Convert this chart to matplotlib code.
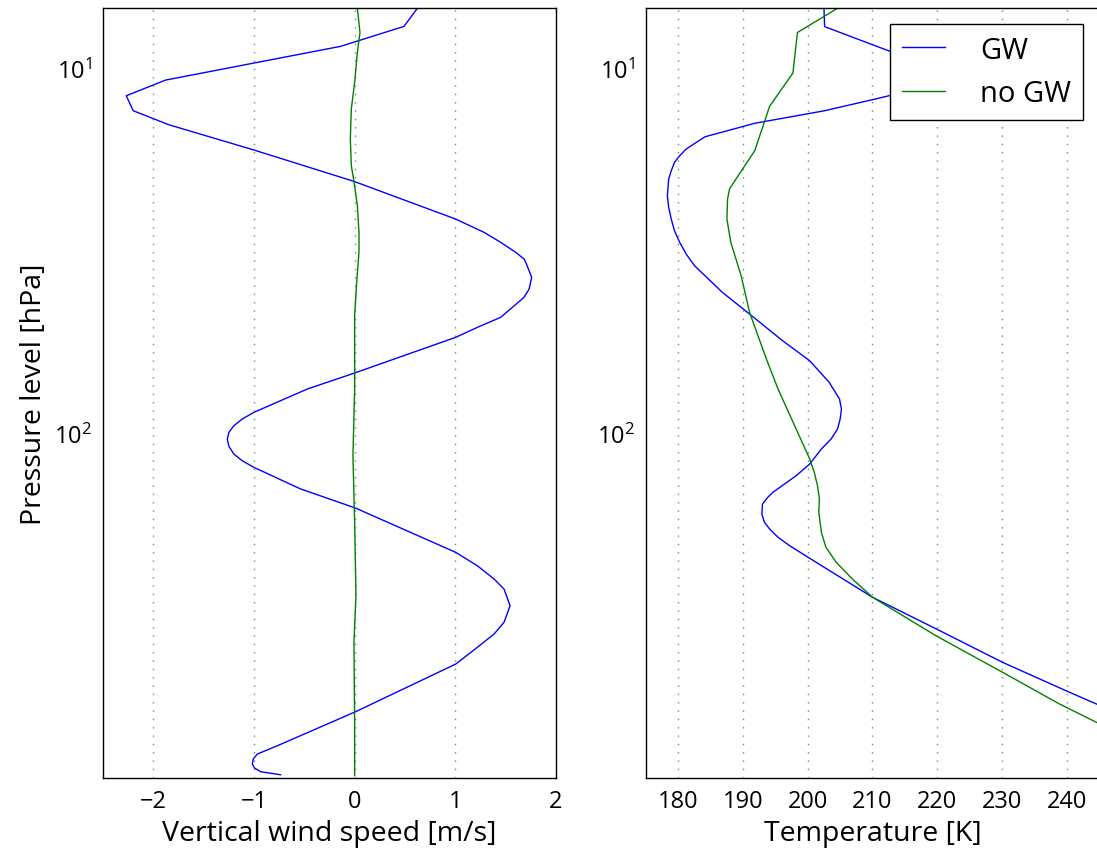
#!/usr/bin/env python3
"""Vertical wind speed and temperature profiles, with and without gravity waves."""

from matplotlib import pyplot as plt

# wind speed profiles [m/s] vs pressure [hPa]
p_w_gw = [6.86, 7.69, 8.72, 10.79, 11.91, 13.09, 14.30, 16.77, 20.44, 25.93,
          28.19, 30.03, 31.98, 33.37, 34.07, 37.45, 40.32, 42.48, 45.25, 48.19,
          51.33, 54.68, 68.47, 75.76, 87.77, 91.56, 95.50, 99.56, 103.85, 108.8,
          114.2, 119.1, 124.2, 142.3, 160.6, 212.3, 231.0, 251.2, 267.6, 297.4,
          330.1, 355.4, 386.5, 429.6, 580.1, 719.2, 757.9, 781.8, 807.2, 827.8,
          847.3, 863.6]
w_gw = [0.623, 0.490, -0.139, -1.879, -2.269, -2.200, -1.846, -1.001, -0.007, 1.004,
        1.285, 1.451, 1.600, 1.683, 1.700, 1.759, 1.733, 1.683, 1.567, 1.451,
        1.220, 1.004, 0.0, -0.470, -1.001, -1.117, -1.200, -1.249, -1.265, -1.249,
        -1.200, -1.117, -1.001, -0.537, 0.010, 1.004, 1.219, 1.385, 1.484, 1.544,
        1.484, 1.385, 1.219, 1.004, 0.010, -0.768, -0.967, -1.007, -1.017, -0.994,
        -0.934, -0.736]

p_w_nogw = [6.86, 7.99, 9.06, 10.94, 12.95, 15.65, 18.53, 20.44, 23.84, 28.19,
            31.98, 38.65, 47.70, 65.41, 75.76, 115.3, 175.6, 278.4, 374.9, 620.0,
            868.0]
w_nogw = [0.027, 0.053, 0.027, 0.0, -0.033, -0.043, -0.033, -0.007, 0.027, 0.043,
          0.043, 0.020, 0.0, 0.0, 0.0, -0.017, 0.0, 0.013, -0.007, 0.0,
          0.0]

# temperature profiles [K] vs pressure [hPa]
p_t_gw = [6.86, 7.70, 8.78, 10.65, 12.08, 13.09, 14.17, 15.43, 16.67, 17.39,
          18.13, 19.11, 20.15, 21.22, 22.38, 24.08, 25.93, 27.92, 30.03, 32.33,
          34.81, 41.17, 47.21, 55.85, 63.39, 72.62, 80.69, 85.94, 91.56, 97.50,
          103.85, 110.6, 121.6, 130.9, 145.4, 150.1, 156.5, 166.7, 175.6, 183.2,
          193.1, 203.6, 226.1, 281.8, 348.0, 424.9, 508.2, 552.6, 689.4, 865.0]
t_gw = [202.5, 202.6, 211.1, 223.9, 211.1, 202.6, 191.8, 184.1, 181.2, 180.2,
        179.4, 178.9, 178.5, 178.4, 178.3, 178.5, 178.9, 179.4, 180.2, 181.2,
        182.5, 186.8, 191.0, 196.1, 200.3, 203.3, 204.9, 205.2, 205.0, 204.6,
        203.6, 202.1, 200.3, 198.2, 194.6, 193.8, 193.0, 192.9, 193.3, 194.1,
        195.4, 197.2, 201.3, 210.0, 220.4, 230.1, 239.9, 244.6, 256.8, 268.7]

p_t_nogw = [6.86, 7.99, 10.32, 12.73, 16.85, 20.15, 21.45, 22.85, 25.93, 30.03,
            37.07, 46.70, 62.70, 75.76, 97.50, 117.8, 128.1, 139.4, 151.7, 165.0,
            187.1, 205.7, 226.1, 251.2, 281.8, 359.2, 452.5, 552.6, 620.3, 881.6]
t_nogw = [204.6, 198.4, 197.7, 194.1, 191.8, 188.9, 187.9, 187.6, 187.5, 188.1,
          189.7, 191.0, 193.6, 195.4, 198.2, 200.3, 201.0, 201.5, 201.8, 201.7,
          202.1, 202.8, 204.4, 206.9, 210.0, 219.8, 230.1, 238.9, 244.6, 261.9]

FONT = "Open Sans"
plt.rcParams["font.family"] = [FONT, "DejaVu Sans"]
plt.rcParams["mathtext.fontset"] = "custom"
plt.rcParams["mathtext.rm"] = FONT
plt.rcParams["mathtext.it"] = FONT
plt.rcParams["mathtext.bf"] = FONT

fig = plt.figure(figsize=(10.97, 8.54), dpi=100)
ax1 = fig.add_axes([0.0939, 0.0875, 0.4129, 0.9016])
ax2 = fig.add_axes([0.5889, 0.0875, 0.4129, 0.9016])

ax1.plot(w_gw, p_w_gw, color="b", lw=1.0, label="GW")
ax1.plot(w_nogw, p_w_nogw, color="g", lw=1.0, label="no GW")
ax2.plot(t_gw, p_t_gw, color="b", lw=1.0, label="GW")
ax2.plot(t_nogw, p_t_nogw, color="g", lw=1.0, label="no GW")

for ax in (ax1, ax2):
    ax.set_yscale("log")
    ax.set_ylim(883, 6.86)
    ax.grid(axis="x", color="gray", linestyle=(0, (1, 5)), lw=1.0)
    ax.tick_params(which="both", length=0, labelsize=17, pad=8)
    for s in ax.spines.values():
        s.set_linewidth(1.0)

ax1.set_xlim(-2.5, 2)
ax1.set_xticks([-2, -1, 0, 1, 2])
ax1.set_xlabel("Vertical wind speed [m/s]", fontsize=20.5)
ax1.set_ylabel("Pressure level [hPa]", fontsize=20.5)

ax2.set_xlim(175, 245)
ax2.set_xticks(range(180, 245, 10))
ax2.set_xlabel("Temperature [K]", fontsize=20.5)

ax2.legend(loc="upper right", bbox_to_anchor=(1083 / 1097, 1 - 25 / 854),
           bbox_transform=fig.transFigure, fontsize=21, fancybox=False,
           framealpha=1, edgecolor="black", handlelength=1.5,
           handletextpad=1.2, labelspacing=0.5, borderaxespad=0)

fig.savefig("out.png", dpi=100)
